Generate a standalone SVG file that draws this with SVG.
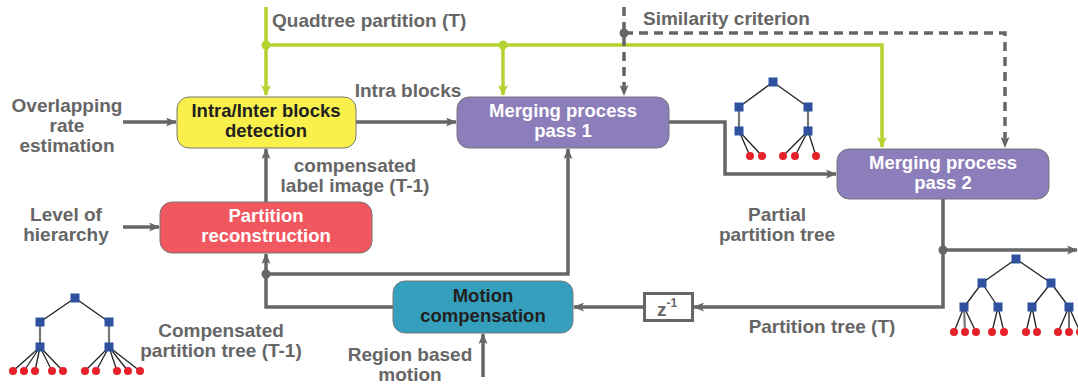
<svg xmlns="http://www.w3.org/2000/svg" width="1078" height="385" viewBox="0 0 1078 385">
<style>
.lbl{font-family:"Liberation Sans",Arial,sans-serif;font-weight:bold;font-size:19px;fill:#666;text-anchor:middle}
.bt{font-family:"Liberation Sans",Arial,sans-serif;font-weight:bold;font-size:18.5px;text-anchor:middle}
.dark{fill:#231f20}.white{fill:#fff}
.box{stroke:#777;stroke-width:1}
.g{fill:none;stroke:#666;stroke-width:3.5}
.gd{fill:none;stroke:#666;stroke-width:3.5;stroke-dasharray:9,6}
.gr{fill:none;stroke:#b5d330;stroke-width:3.5}
.sq{fill:#3050a0}.lf{fill:#e8202a}
.tl{stroke:#222;stroke-width:1.3}
.tv{stroke:#777;stroke-width:2.2}
</style>
<defs>
<marker id="ag" markerUnits="userSpaceOnUse" markerWidth="11" markerHeight="9" refX="10" refY="4.5" orient="auto"><path d="M0,0 L11,4.5 L0,9 L2.5,4.5 z" fill="#666"/></marker>
<marker id="agr" markerUnits="userSpaceOnUse" markerWidth="11" markerHeight="10" refX="10" refY="5" orient="auto"><path d="M0,0 L11,5 L0,10 L2.5,5 z" fill="#b5d330"/></marker>
</defs>

<g id="connectors">
<path class="gr" d="M266,7 V95" marker-end="url(#agr)"/>
<path class="gr" d="M266,45 H882 V147" marker-end="url(#agr)"/>
<path class="gr" d="M503,45 V95" marker-end="url(#agr)"/>
<circle cx="266" cy="45" r="4.5" fill="#b5d330"/>
<circle cx="503" cy="45" r="4.5" fill="#b5d330"/>
<path class="gd" d="M624,7 V95" marker-end="url(#ag)"/>
<path class="gd" d="M624,33 H1005 V147" marker-end="url(#ag)"/>
<circle cx="624" cy="33" r="4.5" fill="#666"/>
<path class="g" d="M123,122 H176" marker-end="url(#ag)"/>
<path class="g" d="M356,122 H456" marker-end="url(#ag)"/>
<path class="g" d="M669,122 H725 V174 H836" marker-end="url(#ag)"/>
<path class="g" d="M266,202 V149" marker-end="url(#ag)"/>
<path class="g" d="M123,227 H159" marker-end="url(#ag)"/>
<path class="g" d="M393,307 H266 V254" marker-end="url(#ag)"/>
<path class="g" d="M266,274 H568 V149" marker-end="url(#ag)"/>
<circle cx="266" cy="274" r="4.5" fill="#666"/>
<path class="g" d="M943,199 V307 H694" marker-end="url(#ag)"/>
<path class="g" d="M644,307 H574" marker-end="url(#ag)"/>
<path class="g" d="M943,250 H1077" marker-end="url(#ag)"/>
<circle cx="943" cy="250" r="4.5" fill="#666"/>
<path class="g" d="M483,377 V334" marker-end="url(#ag)"/>
</g>

<g id="intra-inter">
<rect class="box" x="177" y="97" width="179" height="51" rx="12" fill="#f9f04b"/>
<text class="bt dark" x="266" y="117">Intra/Inter blocks</text>
<text class="bt dark" x="266" y="137">detection</text>
</g>
<g id="merge1">
<rect class="box" x="457" y="97" width="212" height="51" rx="12" fill="#8c7eba"/>
<text class="bt white" x="563" y="117">Merging process</text>
<text class="bt white" x="563" y="137">pass 1</text>
</g>
<g id="merge2">
<rect class="box" x="837" y="149" width="212" height="50" rx="12" fill="#8c7eba"/>
<text class="bt white" x="943" y="169">Merging process</text>
<text class="bt white" x="943" y="189">pass 2</text>
</g>
<g id="reconstruction">
<rect class="box" x="160" y="202" width="212" height="51" rx="12" fill="#f0575e"/>
<text class="bt white" x="266" y="222">Partition</text>
<text class="bt white" x="266" y="242">reconstruction</text>
</g>
<g id="motion">
<rect class="box" x="393" y="281" width="180" height="52" rx="12" fill="#34a0bd"/>
<text class="bt dark" x="483" y="302">Motion</text>
<text class="bt dark" x="483" y="322">compensation</text>
</g>
<g id="zinv">
<rect x="644.5" y="293.5" width="48" height="27" fill="#fff" stroke="#666" stroke-width="3"/>
<text font-family="Liberation Sans,Arial,sans-serif" font-weight="bold" font-size="19" fill="#666" x="657" y="316">z<tspan font-size="12" dy="-9">-1</tspan></text>
</g>

<g id="labels">
<text class="lbl" x="272" y="27" style="text-anchor:start">Quadtree partition (T)</text>
<text class="lbl" x="643" y="25" style="text-anchor:start">Similarity criterion</text>
<text class="lbl" x="408" y="97">Intra blocks</text>
<text class="lbl" x="67" y="112">Overlapping</text>
<text class="lbl" x="67" y="132">rate</text>
<text class="lbl" x="67" y="152">estimation</text>
<text class="lbl" x="355" y="172">compensated</text>
<text class="lbl" x="355" y="192">label image (T-1)</text>
<text class="lbl" x="66" y="221">Level of</text>
<text class="lbl" x="66" y="241">hierarchy</text>
<text class="lbl" x="777" y="221">Partial</text>
<text class="lbl" x="777" y="241">partition tree</text>
<text class="lbl" x="822" y="333">Partition tree (T)</text>
<text class="lbl" x="221" y="337">Compensated</text>
<text class="lbl" x="221" y="357">partition tree (T-1)</text>
<text class="lbl" x="410" y="361">Region based</text>
<text class="lbl" x="410" y="381">motion</text>
</g>

<g id="tree-partial">
<line class="tl" x1="773" y1="82" x2="739" y2="107"/>
<line class="tl" x1="773" y1="82" x2="808" y2="107"/>
<line class="tv" x1="739" y1="107" x2="739" y2="131"/>
<line class="tv" x1="808" y1="107" x2="808" y2="131"/>
<line class="tl" x1="739" y1="131" x2="750" y2="156"/>
<line class="tl" x1="739" y1="131" x2="762" y2="156"/>
<line class="tl" x1="808" y1="131" x2="783" y2="156"/>
<line class="tl" x1="808" y1="131" x2="795" y2="156"/>
<line class="tl" x1="808" y1="131" x2="816" y2="156"/>
<rect class="sq" x="768.5" y="77.5" width="9" height="9"/>
<rect class="sq" x="734.5" y="102.5" width="9" height="9"/>
<rect class="sq" x="803.5" y="102.5" width="9" height="9"/>
<rect class="sq" x="734.5" y="126.5" width="9" height="9"/>
<rect class="sq" x="803.5" y="126.5" width="9" height="9"/>
<circle class="lf" cx="750" cy="156" r="4"/><circle class="lf" cx="762" cy="156" r="4"/>
<circle class="lf" cx="783" cy="156" r="4"/><circle class="lf" cx="795" cy="156" r="4"/><circle class="lf" cx="816" cy="156" r="4"/>
</g>

<g id="tree-compensated">
<line class="tl" x1="75" y1="298" x2="40" y2="322"/>
<line class="tl" x1="75" y1="298" x2="109" y2="322"/>
<line class="tv" x1="40" y1="322" x2="40" y2="347"/>
<line class="tv" x1="109" y1="322" x2="109" y2="347"/>
<line class="tl" x1="40" y1="347" x2="13" y2="371"/>
<line class="tl" x1="40" y1="347" x2="24" y2="371"/>
<line class="tl" x1="40" y1="347" x2="35" y2="371"/>
<line class="tl" x1="40" y1="347" x2="52" y2="371"/>
<line class="tl" x1="40" y1="347" x2="63" y2="371"/>
<line class="tl" x1="109" y1="347" x2="85" y2="371"/>
<line class="tl" x1="109" y1="347" x2="96" y2="371"/>
<line class="tl" x1="109" y1="347" x2="117" y2="371"/>
<line class="tl" x1="109" y1="347" x2="128" y2="371"/>
<line class="tl" x1="109" y1="347" x2="140" y2="371"/>
<rect class="sq" x="70.5" y="293.5" width="9" height="9"/>
<rect class="sq" x="35.5" y="317.5" width="9" height="9"/>
<rect class="sq" x="104.5" y="317.5" width="9" height="9"/>
<rect class="sq" x="35.5" y="342.5" width="9" height="9"/>
<rect class="sq" x="104.5" y="342.5" width="9" height="9"/>
<circle class="lf" cx="13" cy="371" r="4"/><circle class="lf" cx="24" cy="371" r="4"/><circle class="lf" cx="35" cy="371" r="4"/><circle class="lf" cx="52" cy="371" r="4"/><circle class="lf" cx="63" cy="371" r="4"/>
<circle class="lf" cx="85" cy="371" r="4"/><circle class="lf" cx="96" cy="371" r="4"/><circle class="lf" cx="117" cy="371" r="4"/><circle class="lf" cx="128" cy="371" r="4"/><circle class="lf" cx="140" cy="371" r="4"/>
</g>

<g id="tree-full">
<line class="tl" x1="1016" y1="259" x2="982" y2="283"/>
<line class="tl" x1="1016" y1="259" x2="1051" y2="283"/>
<line class="tl" x1="982" y1="283" x2="964" y2="307"/>
<line class="tl" x1="982" y1="283" x2="998" y2="307"/>
<line class="tl" x1="1051" y1="283" x2="1032" y2="307"/>
<line class="tl" x1="1051" y1="283" x2="1069" y2="307"/>
<line class="tl" x1="964" y1="307" x2="954" y2="332"/>
<line class="tv" x1="964" y1="307" x2="965" y2="332"/>
<line class="tl" x1="964" y1="307" x2="976" y2="332"/>
<line class="tl" x1="998" y1="307" x2="992" y2="332"/>
<line class="tl" x1="998" y1="307" x2="1004" y2="332"/>
<line class="tl" x1="1032" y1="307" x2="1026" y2="332"/>
<line class="tl" x1="1032" y1="307" x2="1037" y2="332"/>
<line class="tl" x1="1069" y1="307" x2="1058" y2="332"/>
<line class="tl" x1="1069" y1="307" x2="1069" y2="332"/>
<line class="tl" x1="1069" y1="307" x2="1080" y2="332"/>
<rect class="sq" x="1011.5" y="254.5" width="9" height="9"/>
<rect class="sq" x="977.5" y="278.5" width="9" height="9"/>
<rect class="sq" x="1046.5" y="278.5" width="9" height="9"/>
<rect class="sq" x="959.5" y="302.5" width="9" height="9"/>
<rect class="sq" x="993.5" y="302.5" width="9" height="9"/>
<rect class="sq" x="1027.5" y="302.5" width="9" height="9"/>
<rect class="sq" x="1064.5" y="302.5" width="9" height="9"/>
<circle class="lf" cx="954" cy="332" r="4"/><circle class="lf" cx="965" cy="332" r="4"/><circle class="lf" cx="976" cy="332" r="4"/>
<circle class="lf" cx="992" cy="332" r="4"/><circle class="lf" cx="1004" cy="332" r="4"/>
<circle class="lf" cx="1026" cy="332" r="4"/><circle class="lf" cx="1037" cy="332" r="4"/>
<circle class="lf" cx="1058" cy="332" r="4"/><circle class="lf" cx="1069" cy="332" r="4"/><circle class="lf" cx="1080" cy="332" r="4"/>
</g>
</svg>
